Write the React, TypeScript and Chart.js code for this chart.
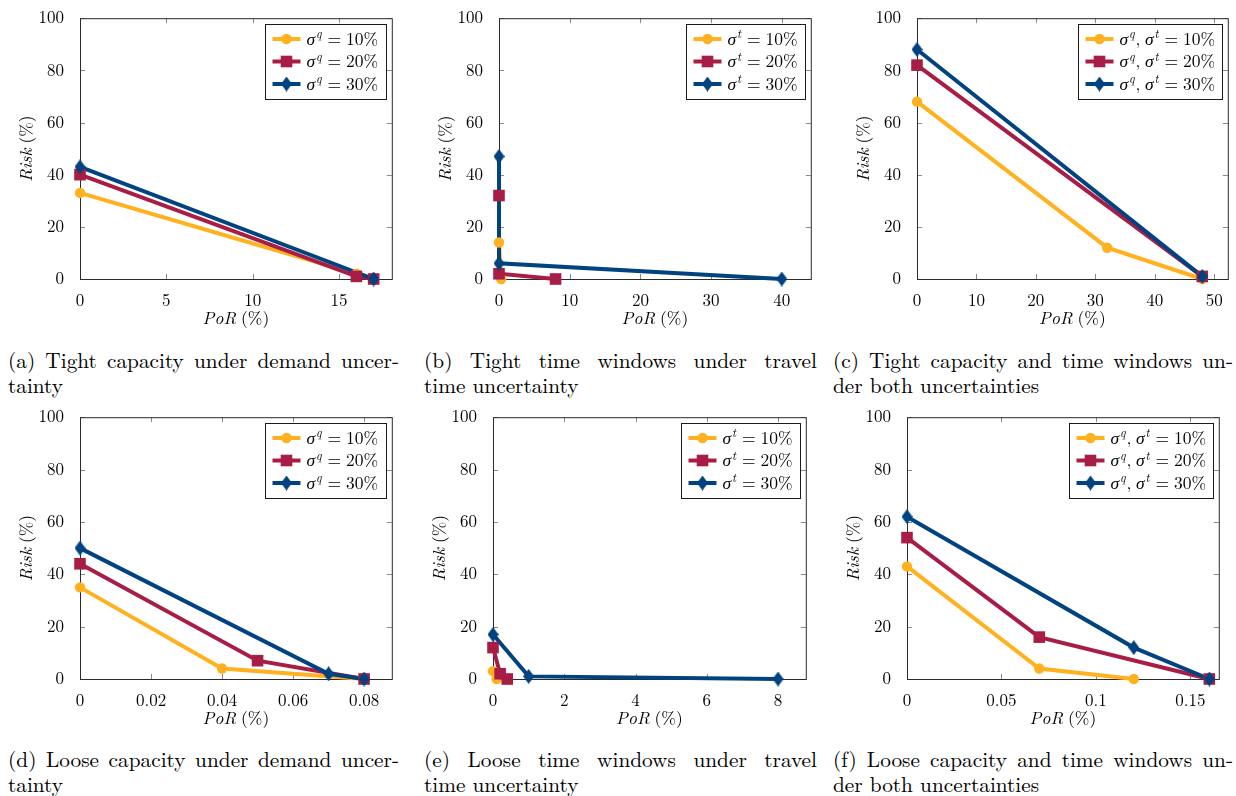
import React, { useEffect, useRef } from "react";
import { Chart, registerables } from "chart.js";

Chart.register(...registerables);

const YELLOW = "#FFB120";
const RED = "#A81D45";
const BLUE = "#004380";
const FONT = '"Latin Modern Roman", "Liberation Serif", serif';

// ---------- data ----------
const riskTicks = [0, 20, 40, 60, 80, 100];

// (a) Tight capacity under demand uncertainty
const aTicks = [0, 5, 10, 15];
const aPoR10 = [0, 16, 17];
const aRisk10 = [33, 2, 0];
const aPoR20 = [0, 16, 17];
const aRisk20 = [40, 1, 0];
const aPoR30 = [0, 17];
const aRisk30 = [43, 0];

// (b) Tight time windows under travel time uncertainty
const bTicks = [0, 10, 20, 30, 40];
const bPoR10 = [0, 0.3];
const bRisk10 = [14, 0];
const bPoR20 = [0, 0, 8];
const bRisk20 = [32, 2, 0];
const bPoR30 = [0, 0, 40];
const bRisk30 = [47, 6, 0];

// (c) Tight capacity and time windows under both uncertainties
const cTicks = [0, 10, 20, 30, 40, 50];
const cPoR10 = [0, 32, 48];
const cRisk10 = [68, 12, 0];
const cPoR20 = [0, 48];
const cRisk20 = [82, 1];
const cPoR30 = [0, 48];
const cRisk30 = [88, 1];

// (d) Loose capacity under demand uncertainty
const dTicks = [0, 0.02, 0.04, 0.06, 0.08];
const dPoR10 = [0, 0.04, 0.08];
const dRisk10 = [35, 4, 0];
const dPoR20 = [0, 0.05, 0.08];
const dRisk20 = [44, 7, 0];
const dPoR30 = [0, 0.07, 0.08];
const dRisk30 = [50, 2, 0];

// (e) Loose time windows under travel time uncertainty
const eTicks = [0, 2, 4, 6, 8];
const ePoR10 = [0, 0.1];
const eRisk10 = [3, 0];
const ePoR20 = [0, 0.2, 0.4];
const eRisk20 = [12, 2, 0];
const ePoR30 = [0, 1, 8];
const eRisk30 = [17, 1, 0];

// (f) Loose capacity and time windows under both uncertainties
const fTicks = [0, 0.05, 0.1, 0.15];
const fPoR10 = [0, 0.07, 0.12];
const fRisk10 = [43, 4, 0];
const fPoR20 = [0, 0.07, 0.16];
const fRisk20 = [54, 16, 0];
const fPoR30 = [0, 0.12, 0.16];
const fRisk30 = [62, 12, 0];

const legendQ = ["σ^q = 10%", "σ^q = 20%", "σ^q = 30%"];
const legendT = ["σ^t = 10%", "σ^t = 20%", "σ^t = 30%"];
const legendQT = ["σ^q, σ^t = 10%", "σ^q, σ^t = 20%", "σ^q, σ^t = 30%"];

const xTitle = "PoR (%)";
const yTitle = "Risk (%)";

const captionLines = [
  ["(a) Tight capacity under demand uncer-", "tainty"],
  ["(b) Tight time windows under travel", "time uncertainty"],
  ["(c) Tight capacity and time windows un-", "der both uncertainties"],
  ["(d) Loose capacity under demand uncer-", "tainty"],
  ["(e) Loose time windows under travel", "time uncertainty"],
  ["(f) Loose capacity and time windows un-", "der both uncertainties"],
];

// ---------- layout ----------
const panels = [
  { left: 80, top: 16, w: 318, h: 263, xMax: 18.05, ticks: aTicks, legend: legendQ,
    series: [[aPoR10, aRisk10], [aPoR20, aRisk20], [aPoR30, aRisk30]] },
  { left: 499, top: 16, w: 318, h: 263, xMax: 44.1, ticks: bTicks, legend: legendT,
    series: [[bPoR10, bRisk10], [bPoR20, bRisk20], [bPoR30, bRisk30]] },
  { left: 917, top: 16, w: 317, h: 263, xMax: 52.3, ticks: cTicks, legend: legendQT,
    series: [[cPoR10, cRisk10], [cPoR20, cRisk20], [cPoR30, cRisk30]] },
  { left: 80, top: 415, w: 318, h: 264, xMax: 0.0878, ticks: dTicks, legend: legendQ,
    series: [[dPoR10, dRisk10], [dPoR20, dRisk20], [dPoR30, dRisk30]] },
  { left: 493, top: 415, w: 319, h: 264, xMax: 8.78, ticks: eTicks, legend: legendT,
    series: [[ePoR10, eRisk10], [ePoR20, eRisk20], [ePoR30, eRisk30]] },
  { left: 907, top: 415, w: 318, h: 264, xMax: 0.165, ticks: fTicks, legend: legendQT,
    series: [[fPoR10, fRisk10], [fPoR20, fRisk20], [fPoR30, fRisk30]] },
];

const captionPos = [
  { x: 8, y: 347, w: 391 },
  { x: 424, y: 347, w: 393 },
  { x: 833, y: 347, w: 400 },
  { x: 8, y: 746, w: 391 },
  { x: 424, y: 746, w: 393 },
  { x: 833, y: 746, w: 400 },
];

const COLORS = [YELLOW, RED, BLUE];
const FS = 17;
const LFS = 17.5;

function makeDiamond(color: string): HTMLCanvasElement {
  const c = document.createElement("canvas");
  c.width = 11;
  c.height = 15;
  const g = c.getContext("2d")!;
  g.fillStyle = color;
  g.beginPath();
  g.moveTo(5.5, 0);
  g.lineTo(11, 7.5);
  g.lineTo(5.5, 15);
  g.lineTo(0, 7.5);
  g.closePath();
  g.fill();
  return c;
}

function drawMath(ctx: CanvasRenderingContext2D, text: string, x: number, y: number, size: number, draw: boolean): number {
  let cx = x;
  const it = `italic ${size}px ${FONT}`;
  const up = `${size}px ${FONT}`;
  const sup = `italic ${size * 0.7}px ${FONT}`;
  ctx.textAlign = "left";
  ctx.textBaseline = "alphabetic";
  for (let i = 0; i < text.length; i++) {
    const ch = text[i];
    if (ch === "^") {
      const s = text[++i];
      ctx.font = sup;
      if (draw) ctx.fillText(s, cx + 0.8, y - size * 0.38);
      cx += ctx.measureText(s).width + 1.8;
      continue;
    }
    if (ch === " ") {
      cx += text[i - 1] === "," ? size * 0.26 : size * 0.28;
      continue;
    }
    ctx.font = /[A-Za-zσ]/.test(ch) ? it : up;
    if (draw) ctx.fillText(ch, cx, y);
    cx += ctx.measureText(ch).width;
  }
  return cx - x;
}

function drawMarker(ctx: CanvasRenderingContext2D, i: number, x: number, y: number, diamond: HTMLCanvasElement) {
  ctx.fillStyle = COLORS[i];
  if (i === 0) {
    ctx.beginPath();
    ctx.arc(x, y, 5.2, 0, Math.PI * 2);
    ctx.fill();
  } else if (i === 1) {
    ctx.fillRect(x - 5.8, y - 5.8, 11.6, 11.6);
  } else {
    ctx.drawImage(diamond, x - diamond.width / 2, y - diamond.height / 2);
  }
}

function Panel({ p }: { p: any }) {
  const ref = useRef<HTMLCanvasElement>(null);
  useEffect(() => {
    const diamond = makeDiamond(BLUE);
    const framePlugin = {
      id: "frame",
      beforeDatasetsDraw(chart: any) {
        const { ctx, chartArea: a, scales } = chart;
        ctx.save();
        ctx.strokeStyle = "#8a8a8a";
        ctx.lineWidth = 1;
        const tl = 5;
        ctx.beginPath();
        for (const t of scales.x.ticks) {
          const px = Math.round(scales.x.getPixelForValue(t.value)) + 0.5;
          ctx.moveTo(px, a.bottom);
          ctx.lineTo(px, a.bottom - tl);
          ctx.moveTo(px, a.top);
          ctx.lineTo(px, a.top + tl);
        }
        for (const t of scales.y.ticks) {
          const py = Math.round(scales.y.getPixelForValue(t.value)) + 0.5;
          ctx.moveTo(a.left, py);
          ctx.lineTo(a.left + tl, py);
          ctx.moveTo(a.right, py);
          ctx.lineTo(a.right - tl, py);
        }
        ctx.stroke();
        ctx.strokeStyle = "#2a2a2a";
        ctx.strokeRect(a.left + 0.5, a.top + 0.5, a.right - a.left, a.bottom - a.top);
        ctx.restore();
      },
      afterDraw(chart: any) {
        const { ctx, chartArea: a } = chart;
        ctx.save();
        // legend
        const labels: string[] = p.legend;
        const textW = Math.max(...labels.map((l) => drawMath(ctx, l, 0, 0, LFS, false)));
        const rowH = 22.5;
        const boxW = Math.round(7 + 28 + 6 + textW + 8);
        const boxH = Math.round(rowH * 3 + 7);
        const bx = Math.round(a.right - 6 - boxW) + 0.5;
        const by = Math.round(a.top + 6) + 0.5;
        ctx.fillStyle = "#ffffff";
        ctx.fillRect(bx, by, boxW, boxH);
        ctx.strokeStyle = "#1a1a1a";
        ctx.lineWidth = 1;
        ctx.strokeRect(bx, by, boxW, boxH);
        labels.forEach((l, i) => {
          const cy = by + 14.5 + i * rowH;
          ctx.strokeStyle = COLORS[i];
          ctx.lineWidth = 4;
          ctx.beginPath();
          ctx.moveTo(bx + 7, cy);
          ctx.lineTo(bx + 35, cy);
          ctx.stroke();
          drawMarker(ctx, i, bx + 21, cy, diamond);
          ctx.fillStyle = "#000";
          drawMath(ctx, l, bx + 41, cy + LFS * 0.33, LFS, true);
        });
        // axis titles
        ctx.fillStyle = "#000";
        const xw = drawMath(ctx, xTitle, 0, 0, LFS, false);
        drawMath(ctx, xTitle, (a.left + a.right) / 2 - xw / 2, a.bottom + 39 + LFS * 0.33, LFS, true);
        const yw = drawMath(ctx, yTitle, 0, 0, LFS, false);
        ctx.translate(a.left - 54, (a.top + a.bottom) / 2);
        ctx.rotate(-Math.PI / 2);
        drawMath(ctx, yTitle, -yw / 2, LFS * 0.33, LFS, true);
        ctx.restore();
      },
    };

    const pts = (s: number[][]) => s[0].map((v: number, j: number) => ({ x: v, y: s[1][j] }));
    // all lines first (yellow, red, blue), then all markers (yellow, red, blue)
    const lineSets = p.series.map((s: number[][], i: number) => ({
      label: p.legend[i],
      data: pts(s),
      borderColor: COLORS[i],
      backgroundColor: COLORS[i],
      borderWidth: 4,
      pointRadius: 0,
      order: 5 - i,
      clip: false,
      tension: 0,
      fill: false,
    }));
    const markSets = p.series.map((s: number[][], i: number) => ({
      label: p.legend[i] + " marks",
      data: pts(s),
      showLine: false,
      borderColor: COLORS[i],
      backgroundColor: COLORS[i],
      pointBackgroundColor: COLORS[i],
      pointBorderColor: COLORS[i],
      pointBorderWidth: 0,
      pointRadius: i === 0 ? 5.2 : i === 1 ? 8.2 : 8,
      pointStyle: i === 0 ? "circle" : i === 1 ? "rect" : diamond,
      order: 2 - i,
      clip: false,
    }));

    const tickFont = { family: FONT, size: FS };
    const chart = new Chart(ref.current!, {
      type: "line",
      data: { datasets: [...lineSets, ...markSets] },
      options: {
        responsive: false,
        animation: false,
        events: [],
        layout: { padding: { left: 0, top: 16, right: 2, bottom: 0 } },
        plugins: { legend: { display: false }, tooltip: { enabled: false } },
        scales: {
          x: {
            type: "linear",
            min: 0,
            max: p.xMax,
            grid: { display: false },
            border: { display: false },
            afterBuildTicks: (s: any) => {
              s.ticks = p.ticks.map((v: number) => ({ value: v }));
            },
            afterFit: (s: any) => {
              s.height = 60;
            },
            ticks: {
              font: tickFont,
              color: "#000",
              padding: 4,
              maxRotation: 0,
              autoSkip: false,
              callback: (v: any) => String(v),
            },
          },
          y: {
            type: "linear",
            min: 0,
            max: 100,
            grid: { display: false },
            border: { display: false },
            afterBuildTicks: (s: any) => {
              s.ticks = riskTicks.map((v) => ({ value: v }));
            },
            afterFit: (s: any) => {
              s.width = 80;
            },
            ticks: {
              font: tickFont,
              color: "#000",
              padding: 8,
              autoSkip: false,
              callback: (v: any) => String(v),
            },
          },
        },
      } as any,
      plugins: [framePlugin as any],
    });
    return () => chart.destroy();
  }, [p]);

  const cw = 80 + p.w + 2;
  const ch = 16 + p.h + 60;
  return (
    <canvas
      ref={ref}
      width={cw}
      height={ch}
      style={{ position: "absolute", left: p.left - 80, top: p.top - 16, width: cw, height: ch }}
    />
  );
}

export default function App() {
  return (
    <div style={{ position: "absolute", left: 0, top: 0, width: 1236, height: 796, background: "#fff", overflow: "hidden" }}>
      {panels.map((p, i) => (
        <Panel key={i} p={p} />
      ))}
      {captionLines.map((lines, i) => {
        const pos = captionPos[i];
        return (
          <div
            key={"c" + i}
            style={{
              position: "absolute",
              left: pos.x,
              top: pos.y,
              width: pos.w,
              fontFamily: FONT,
              fontSize: 21.3,
              lineHeight: "24.5px",
              color: "#000",
            }}
          >
            <div style={{ textAlign: "justify", textAlignLast: "justify", whiteSpace: "nowrap" }}>{lines[0]}</div>
            <div style={{ whiteSpace: "nowrap" }}>{lines[1]}</div>
          </div>
        );
      })}
    </div>
  );
}
